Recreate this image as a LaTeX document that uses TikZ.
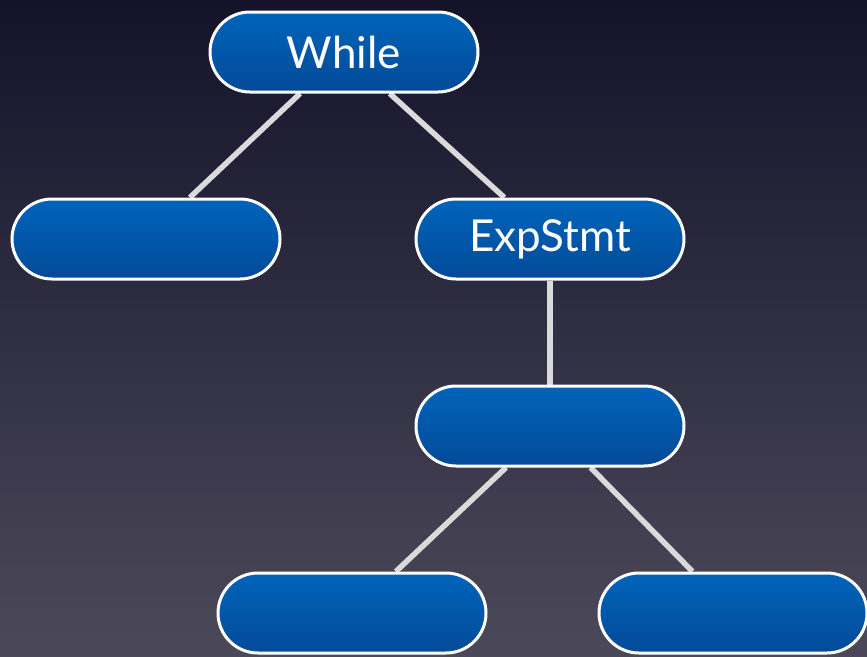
\documentclass[tikz,border=0pt]{standalone}
\usepackage{fontspec}
\setmainfont{Lato}
\usetikzlibrary{backgrounds}
\definecolor{bgtop}{HTML}{15132A}
\definecolor{bgbot}{HTML}{4B4959}
\definecolor{ntop}{HTML}{0064BA}
\definecolor{nbot}{HTML}{044A98}
\definecolor{edgec}{HTML}{DADADA}
\tikzset{
  pill/.style={rounded corners=40pt, minimum width=268pt, minimum height=80pt,
    draw=white, line width=3pt, top color=ntop, bottom color=nbot,
    text=white, font=\fontsize{44}{44}\selectfont, inner sep=0pt},
  conn/.style={draw=edgec, line width=5.5pt}
}
\begin{document}
\begin{tikzpicture}[x=1pt,y=-1pt]
\begin{scope}[on background layer]
\shade[top color=bgtop, bottom color=bgbot] (0,0) rectangle (867,656);
\end{scope}
\useasboundingbox (0,0) rectangle (867,656);
\node[pill] (w) at (344,52) {While};
\node[pill] (l) at (146,239) {};
\node[pill] (e) at (550,239) {ExpStmt};
\node[pill] (m) at (550,426) {};
\node[pill] (bl) at (352,613) {};
\node[pill] (br) at (733,613) {};
\begin{scope}[on background layer]
\draw[conn] (w) -- (l);
\draw[conn] (w) -- (e);
\draw[conn] (e) -- (m);
\draw[conn] (m) -- (bl);
\draw[conn] (m) -- (br);
\end{scope}
\end{tikzpicture}
\end{document}
